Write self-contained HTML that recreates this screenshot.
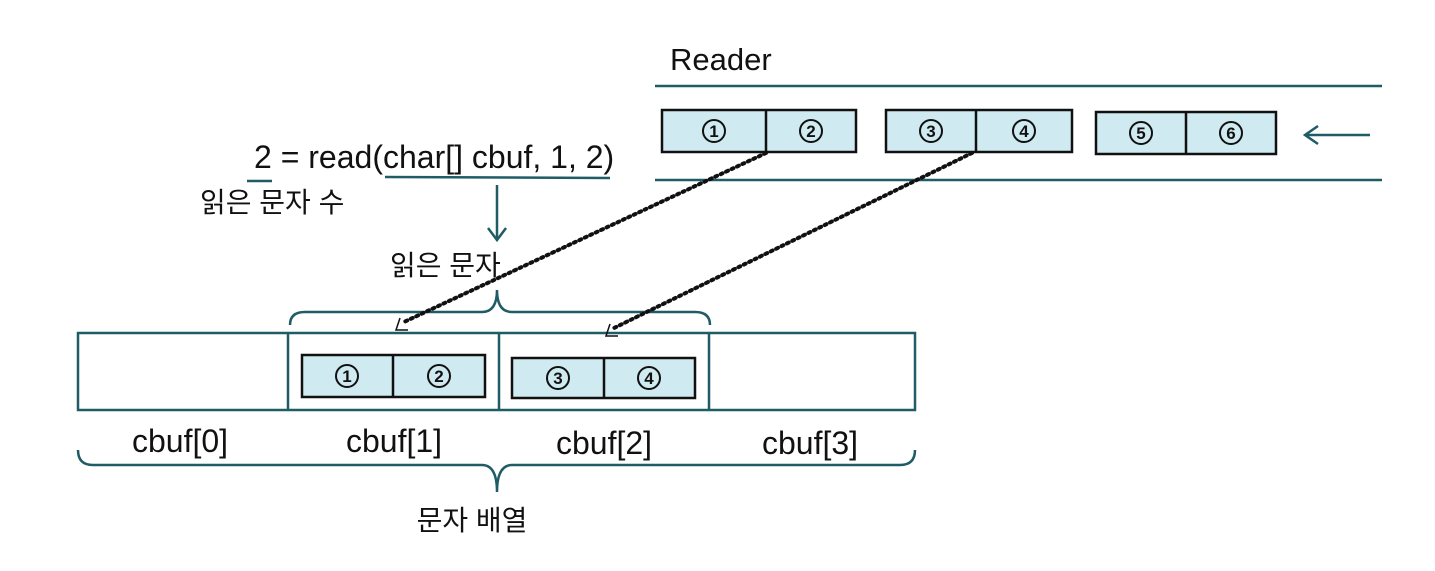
<!DOCTYPE html>
<html><head><meta charset="utf-8"><style>
html,body{margin:0;padding:0;background:#fff;}
svg{display:block;}
text{font-family:"Liberation Sans","Noto Sans CJK KR",sans-serif;fill:#111;}
</style></head><body>
<svg width="1435" height="571" viewBox="0 0 1435 571" xmlns="http://www.w3.org/2000/svg">
<g stroke="#1f5c66" stroke-width="2.5" fill="none">
  <line x1="655" y1="86" x2="1382" y2="86"/>
  <line x1="655" y1="180" x2="1382" y2="180"/>
  <line x1="1305" y1="135" x2="1370" y2="135"/>
  <polyline points="1318,126 1305,135 1318,144"/>
  <line x1="247" y1="181" x2="272" y2="181"/>
  <line x1="385" y1="177" x2="610" y2="178"/>
  <line x1="497" y1="185" x2="497" y2="238"/>
  <polyline points="488,228 497,240 506,228"/>
  <path d="M290,325 Q290,312 305,312 L482,312 Q497,312 497,290 Q497,312 512,312 L695,312 Q710,312 710,325"/>
  <rect x="78" y="333" width="837" height="77"/>
  <line x1="288" y1="333" x2="288" y2="410"/>
  <line x1="499" y1="333" x2="499" y2="410"/>
  <line x1="709" y1="333" x2="709" y2="410"/>
  <path d="M78,450 Q78,465 93,465 L482,465 Q497,465 497,492 Q497,465 512,465 L900,465 Q915,465 915,450"/>
</g>
<g stroke="#111" stroke-width="2.5" fill="#cfeaf0">
  <rect x="662" y="110" width="194" height="42"/><line x1="766" y1="110" x2="766" y2="152"/>
  <rect x="886" y="110" width="186" height="42"/><line x1="976" y1="110" x2="976" y2="152"/>
  <rect x="1096" y="112" width="180" height="42"/><line x1="1186" y1="112" x2="1186" y2="154"/>
  <rect x="302" y="355" width="183" height="42"/><line x1="393" y1="355" x2="393" y2="397"/>
  <rect x="512" y="358" width="183" height="40"/><line x1="604" y1="358" x2="604" y2="398"/>
</g>
<g stroke="#111" stroke-width="4" stroke-dasharray="2,4" stroke-linecap="round" fill="none">
  <line x1="766" y1="153" x2="404" y2="322"/>
  <line x1="972" y1="153" x2="614" y2="328"/>
</g>
<g stroke="#111" stroke-width="1.5" fill="none">
  <polyline points="400,318 396,330 408,330"/>
  <polyline points="610,324 606,336 618,336"/>
</g>
<g fill="none" stroke="#111" stroke-width="2">
  <circle cx="714" cy="131" r="11"/><circle cx="811" cy="131" r="11"/>
  <circle cx="931" cy="131" r="11"/><circle cx="1024" cy="131" r="11"/>
  <circle cx="1141" cy="133" r="11"/><circle cx="1231" cy="133" r="11"/>
  <circle cx="347" cy="376" r="11"/><circle cx="439" cy="376" r="11"/>
  <circle cx="558" cy="378" r="11"/><circle cx="649" cy="378" r="11"/>
</g>
<g font-size="17" font-weight="bold" text-anchor="middle">
  <text x="714" y="137">1</text><text x="811" y="137">2</text>
  <text x="931" y="137">3</text><text x="1024" y="137">4</text>
  <text x="1141" y="139">5</text><text x="1231" y="139">6</text>
  <text x="347" y="382">1</text><text x="439" y="382">2</text>
  <text x="558" y="384">3</text><text x="649" y="384">4</text>
</g>
<text x="670" y="70" font-size="31">Reader</text>
<text x="254" y="168" font-size="32">2 = read(char[] cbuf, 1, 2)</text>
<text x="200" y="212" font-size="28">읽은 문자 수</text>
<text x="390" y="275" font-size="28">읽은 문자</text>
<g font-size="32" text-anchor="middle">
  <text x="180" y="452">cbuf[0]</text>
  <text x="394" y="452">cbuf[1]</text>
  <text x="604" y="454">cbuf[2]</text>
  <text x="810" y="454">cbuf[3]</text>
</g>
<text x="472" y="530" font-size="28" text-anchor="middle">문자 배열</text>
</svg>
</body></html>
